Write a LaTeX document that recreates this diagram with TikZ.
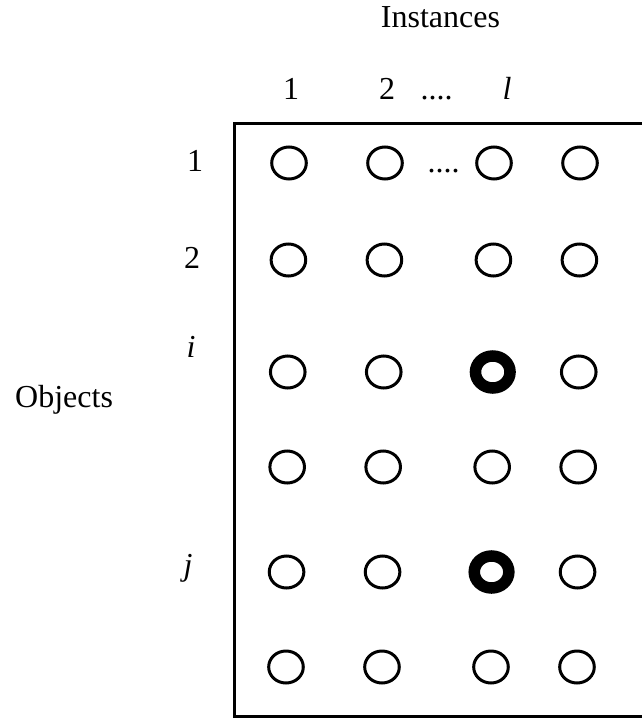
\documentclass[tikz,border=0pt]{standalone}
\usepackage{fontspec}
\setmainfont{Liberation Serif}
\usetikzlibrary{shapes.geometric}
\begin{document}
\begin{tikzpicture}[x=1pt,y=-1pt,
  lbl/.style={font=\fontsize{32}{38}\selectfont, inner sep=0pt, anchor=base},
  lblw/.style={lbl, anchor=base west},
  cell/.style={ellipse, draw, line width=3pt, minimum width=34.6pt, minimum height=32pt, inner sep=0pt},
  hit/.style={cell, line width=11.5pt},
  frame/.style={line width=3pt}]
\useasboundingbox (0,0) rectangle (641,719);
% titles
\node[lbl] (instances) at (440.5,28) {Instances};
\node[lblw] (objects) at (15,407) {Objects};
% column labels
\node[lbl] (col1) at (291,100) {1};
\node[lbl] (col2) at (387,100) {2};
\node[lbl] (coldots) at (436.5,100) {....};
\node[lbl] (coll) at (507,100) {\textit{l}};
% row labels
\node[lbl] (row1) at (195,172) {1};
\node[lbl] (row2) at (192,268) {2};
\node[lbl] (rowi) at (191,357) {\textit{i}};
\node[lbl] (rowj) at (188,575) {\textit{j}};
% frame (right side cut off by the page edge)
\coordinate (tr) at (650,123.5);
\coordinate (tl) at (234.5,123.5);
\coordinate (bl) at (234.5,716.5);
\coordinate (br) at (650,716.5);
\draw[frame] (tr) -- (tl) -- (bl) -- (br);
% grid of objects
\foreach \r/\y in {1/163,2/260,3/372,4/467,5/572,6/667}{
  \foreach \c/\x in {1/289,2/385,3/494,4/580}{
    \pgfmathsetmacro{\xx}{\x-0.006*(\y-163)}
    \ifnum\c=3
      \ifnum\r=3 \node[hit] (c\r\c) at (\xx,\y) {};
      \else\ifnum\r=5 \node[hit] (c\r\c) at (\xx,\y) {};
      \else \node[cell] (c\r\c) at (\xx,\y) {};
      \fi\fi
    \else
      \node[cell] (c\r\c) at (\xx,\y) {};
    \fi
  }
}
\node[lbl] (rowdots) at (443.5,173) {....};
\end{tikzpicture}
\end{document}
